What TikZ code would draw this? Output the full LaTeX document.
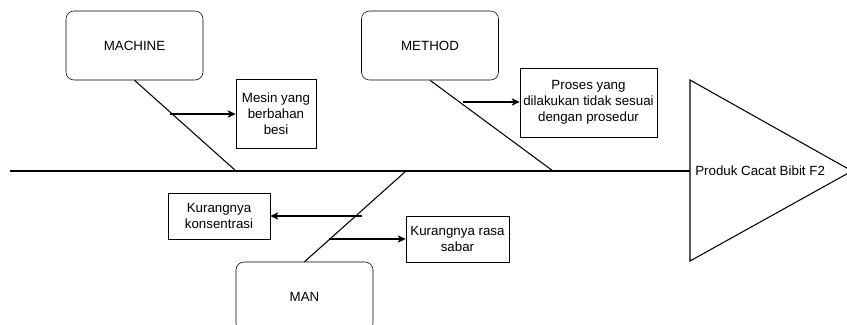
\documentclass[tikz,border=0pt]{standalone}
\usepackage{fontspec}
\setmainfont{Liberation Sans}
\usetikzlibrary{arrows.meta, positioning}

\begin{document}
\begin{tikzpicture}[
    x=0.75pt, y=-0.75pt,
    every node/.style = {font=\fontsize{10pt}{12pt}\selectfont},
    catbox/.style   = {draw, rounded corners=6pt, minimum width=102.75pt,
                       minimum height=51.75pt, align=center},
    causebox/.style = {draw, minimum height=34.5pt, align=center,
                       inner sep=1pt},
    bone/.style     = {line width=0.8pt},
    arrow/.style    = {-{Stealth[length=6pt, width=5.5pt, inset=1.5pt]},
                       line width=0.8pt}
  ]
  \useasboundingbox (0,0) rectangle (847,325);

  % Spine and head
  \coordinate (tail) at (10,171);
  \coordinate (head) at (690,171);
  \draw[bone] (690,80) -- (852,171) -- (690,261) -- cycle;
  \node[anchor=west, inner sep=0pt] (effect) at (695,171)
    {Produk Cacat Bibit F2};
  \draw[bone] (tail) -- (head);

  % Categories
  \node[catbox] (machine) at (134.5,45.5) {MACHINE};
  \node[catbox] (method)  at (430,45.5)   {METHOD};
  \node[catbox] (man)     at (304.5,296.5) {MAN};

  % Bones
  \coordinate (b1) at (236,171);
  \coordinate (b2) at (553,171);
  \coordinate (b3) at (406,171);
  \draw[bone] (machine.south) -- (b1);
  \draw[bone] (method.south)  -- (b2);
  \draw[bone] (man.north)     -- (b3);

  % Causes
  \node[causebox, minimum width=60pt, minimum height=51.75pt]
    (mesin) at (276,113.5) {Mesin yang\\berbahan\\besi};
  \node[causebox, minimum width=102.75pt, minimum height=51.75pt]
    (proses) at (588.5,102.5) {Proses yang\\dilakukan tidak sesuai\\dengan prosedur};
  \node[causebox, minimum width=76.5pt]
    (konsen) at (219,216) {Kurangnya\\konsentrasi};
  \node[causebox, minimum width=77.25pt]
    (sabar) at (457.5,239) {Kurangnya rasa\\sabar};

  % Arrows
  \coordinate (a1) at (170,114);
  \coordinate (a2) at (463,102);
  \coordinate (a3) at (362,216);
  \coordinate (a4) at (329,239);
  \draw[arrow] (a1) -- (mesin.west |- a1);
  \draw[arrow] (a2) -- (proses.west |- a2);
  \draw[arrow] (a3) -- (konsen);
  \draw[arrow] (a4) -- (sabar);
\end{tikzpicture}
\end{document}
